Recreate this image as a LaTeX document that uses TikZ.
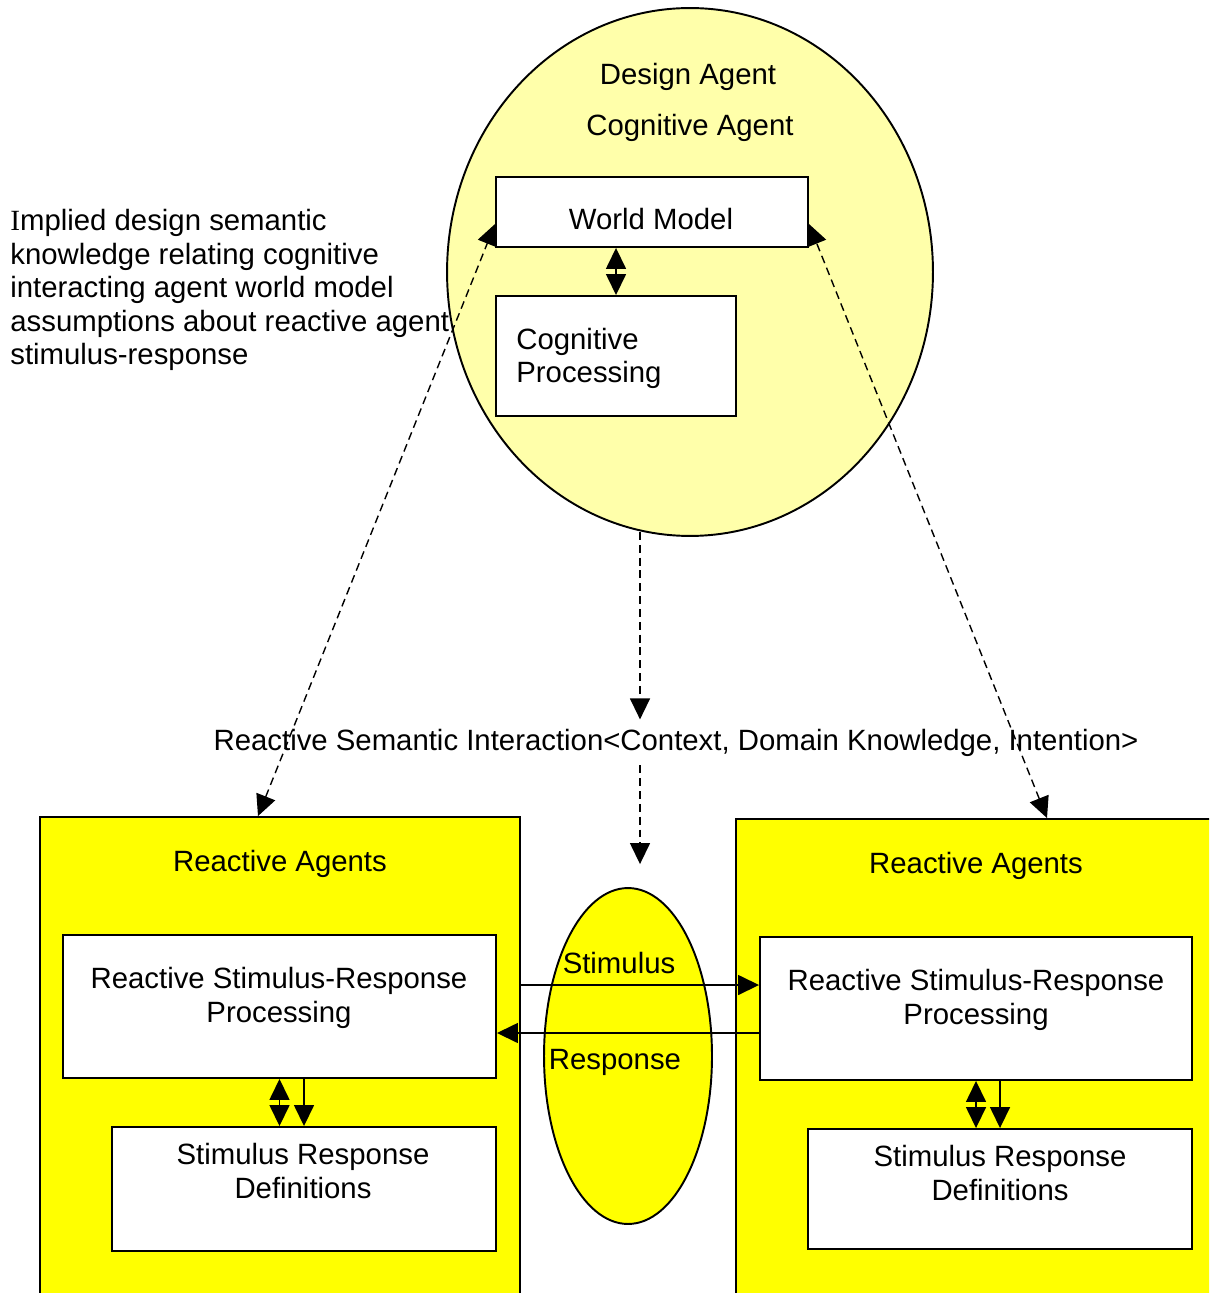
\documentclass[tikz,border=0pt]{standalone}
\usepackage{fontspec}
\setmainfont{Liberation Sans}
\newfontfamily\serifcap{Liberation Serif}
\usetikzlibrary{arrows.meta,shapes.geometric,fit,calc}
\definecolor{paleyellow}{HTML}{FFFFAA}
\definecolor{agentyellow}{HTML}{FFFF00}
\newcommand\diagfont{\fontsize{16.7}{19.1}\selectfont}

\begin{document}
\begin{tikzpicture}[x=0.02cm,y=-0.02cm,
  >={Triangle[length=0.42cm,width=0.40cm]},
  box/.style={draw,fill=white,line width=1.1pt,inner sep=0pt},
  outerbox/.style={draw,fill=agentyellow,line width=1.1pt,inner sep=0pt},
  lbl/.style={font=\diagfont,inner sep=0pt,anchor=base,align=center},
  link/.style={line width=0.9pt},
  dsh/.style={line width=0.8pt,dash pattern=on 4.5pt off 2.8pt}]

\useasboundingbox (0,0) rectangle (1209,1293);
\clip (0,0) rectangle (1209,1293);

% cognitive design agent
\node[ellipse,draw,fill=paleyellow,line width=1.1pt,inner sep=0pt,
      minimum width=9.72cm,minimum height=10.56cm] (design) at (690,272) {};
\node[box,fit={(496,177) (808,247)}] (wm) {};
\node[box,fit={(496,296) (736,416)}] (cp) {};

% reactive agents
\node[outerbox,fit={(40,817) (520,1330)}] (ragL) {};
\node[outerbox,fit={(736,819) (1240,1330)}] (ragR) {};
\node[box,fit={(63,935) (496,1078)}] (rsrL) {};
\node[box,fit={(112,1127) (496,1251)}] (srdL) {};
\node[box,fit={(760,937) (1192,1080)}] (rsrR) {};
\node[box,fit={(808,1129) (1192,1249)}] (srdR) {};

% stimulus / response channel
\node[ellipse,draw,fill=agentyellow,line width=1.1pt,inner sep=0pt,
      minimum width=3.36cm,minimum height=6.72cm] (chan) at (628,1056) {};

% texts (multi-line nodes sit on the baseline of their last line)
\node[lbl] (tda) at (688,85) {Design Agent};
\node[lbl] (tca) at (690,136) {Cognitive Agent};
\node[lbl] (twm) at (651,230) {World Model};
\node[lbl,anchor=base west,align=left] (tcp) at (516,383) {Cognitive\\Processing};
\node[lbl,anchor=base west,align=left] (note) at (10,365)
  {{\serifcap I}mplied design semantic\\knowledge relating cognitive\\interacting agent world model\\assumptions about reactive agent\\stimulus-response};
\node[lbl,inner ysep=0.18cm] (rsi) at (676,750)
  {Reactive Semantic Interaction<Context, Domain Knowledge, Intention>};
\node[lbl] (traL) at (280,871) {Reactive Agents};
\node[lbl] (traR) at (976,873) {Reactive Agents};
\node[lbl] (trsL) at (279,1022) {Reactive Stimulus-Response\\Processing};
\node[lbl] (trsR) at (976,1024) {Reactive Stimulus-Response\\Processing};
\node[lbl] (tsdL) at (303,1198) {Stimulus Response\\Definitions};
\node[lbl] (tsdR) at (1000,1200) {Stimulus Response\\Definitions};
\node[lbl] (tstim) at (619,973) {Stimulus};
\node[lbl] (tresp) at (615,1069) {Response};

% connectors inside the agents
\draw[link,<->] (wm.south -| cp.north) -- (cp.north);
\draw[link,<->] (rsrL.south) -- (rsrL.south |- srdL.north);
\draw[link,->] (srdL.north |- rsrL.south) -- (srdL.north);
\draw[link,<->] (rsrR.south) -- (rsrR.south |- srdR.north);
\draw[link,->] (srdR.north |- rsrR.south) -- (srdR.north);

% stimulus and response exchange
\coordinate (stimrow) at (0,985);
\coordinate (resprow) at (0,1033);
\draw[link,->] (ragL.east |- stimrow) -- (rsrR.west |- stimrow);
\draw[link,->] (rsrR.west |- resprow) -- (rsrL.east |- resprow);

% implied semantic links
\draw[dsh,<->] ($(ragL.north)+(-22,0)$) -- ($(wm.west)+(0,12)$);
\draw[dsh,<->] ($(ragR.north)+(59,0)$) -- ($(wm.east)+(0,12)$);
\coordinate (cdtop) at (640,532);
\draw[dsh,->] (cdtop) -- (cdtop |- rsi.north);
\draw[dsh,->] (rsi.south -| cdtop) -- ($(chan.north)+(12,-23)$);
\end{tikzpicture}
\end{document}
